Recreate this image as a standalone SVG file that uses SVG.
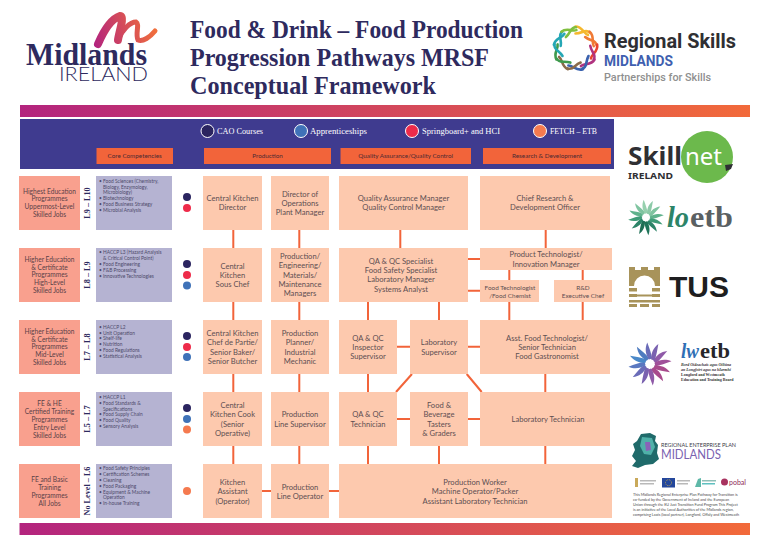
<svg xmlns="http://www.w3.org/2000/svg" xmlns:xlink="http://www.w3.org/1999/xlink" width="768" height="548" viewBox="0 0 768 548">
<style>
text{font-family:"Lato","Noto Sans",sans-serif}
.core{fill:#fdc9ae}
.lvl{fill:#f9a08e}
.cmp{fill:#b5b3d2}
.hd{fill:#f2643a}
.t{font-size:7.6px;fill:#5d4f52;text-anchor:middle}
.s{font-size:6.4px;fill:#5d4f52;text-anchor:middle}
.l{font-size:6.6px;fill:#5a4048;text-anchor:middle}
.b{font-size:4.85px;fill:#4e4a6a}
.hl{font-size:6.3px;fill:#4d2a33;text-anchor:middle}
.sf{font-family:"Liberation Serif",serif}
.ttl{font-family:"Liberation Serif",serif;font-weight:bold;font-size:25px;fill:#2e2a5e}
.lg{font-family:"Liberation Serif",serif;font-size:8.6px;fill:#fff}
.lv{font-family:"Liberation Serif",serif;font-size:8.2px;font-weight:bold;fill:#2e2a5e;text-anchor:middle}
.cn path,.cn line{stroke:#f2643a;stroke-width:2;fill:none}
.ring{fill:none;stroke-width:2.600;stroke-linecap:round}
.mk{fill:#b9b9b9}
.wave{font-size:3.75px;fill:#4a4a4a}
</style>
<defs>
<linearGradient id="bar" x1="0" x2="1" y1="0" y2="0"><stop offset="0" stop-color="#b3247e"/><stop offset="1" stop-color="#f26a3a"/></linearGradient>
<linearGradient id="sw" gradientUnits="userSpaceOnUse" x1="95" y1="45" x2="155" y2="25"><stop offset="0" stop-color="#b3247e"/><stop offset="1" stop-color="#f2703a"/></linearGradient>
<path id="seg" d="M0 -22C7 -22 8 -15 12.500 -13.500"/>
<path id="seg2" d="M0 -15C7 -15 10 -20 14 -16"/>
<path id="blade" d="M4 -4C8 -11 13 -15 21 -16C16 -10 12 -5 7 -1Z"/>
</defs>

<g id="logo-midlands">
<path d="M98 44C104 30 111 19 120 16C125 16 119 32 118 40" fill="none" stroke="url(#sw)" stroke-width="8" stroke-linecap="round"/>
<path d="M118 40C122 30 130 22 136 22C140 24 135 34 138 40C143 42 150 37 155 31" fill="none" stroke="url(#sw)" stroke-width="5" stroke-linecap="round"/>
<text x="26" y="65" class="sf" font-size="31" font-weight="bold" fill="#2e2a5e" textLength="121" lengthAdjust="spacingAndGlyphs">Midlands</text>
<text x="59" y="81" font-size="20" font-weight="300" fill="#2e2a5e" textLength="89" lengthAdjust="spacingAndGlyphs">IRELAND</text>
</g>

<g id="title">
<text x="190" y="37.500" class="ttl" textLength="333" lengthAdjust="spacingAndGlyphs">Food &amp; Drink – Food Production</text>
<text x="190" y="66" class="ttl" textLength="299" lengthAdjust="spacingAndGlyphs">Progression Pathways MRSF</text>
<text x="190" y="94" class="ttl" textLength="246" lengthAdjust="spacingAndGlyphs">Conceptual Framework</text>
</g>

<g id="logo-regional-skills">
<g transform="translate(575.500 48.500)" class="ring">
<use xlink:href="#seg" stroke="#f5b82e"/>
<use xlink:href="#seg2" stroke="#f5b82e"/>
<use xlink:href="#seg" transform="rotate(40)" stroke="#f07a35"/>
<use xlink:href="#seg2" transform="rotate(40)" stroke="#f07a35"/>
<use xlink:href="#seg" transform="rotate(80)" stroke="#e8432f"/>
<use xlink:href="#seg2" transform="rotate(80)" stroke="#b0337f"/>
<use xlink:href="#seg" transform="rotate(120)" stroke="#b0337f"/>
<use xlink:href="#seg2" transform="rotate(120)" stroke="#3a62ae"/>
<use xlink:href="#seg" transform="rotate(160)" stroke="#3a62ae"/>
<use xlink:href="#seg2" transform="rotate(160)" stroke="#8a6a4a"/>
<use xlink:href="#seg" transform="rotate(200)" stroke="#8a6a4a"/>
<use xlink:href="#seg2" transform="rotate(200)" stroke="#3f9a4d"/>
<use xlink:href="#seg" transform="rotate(240)" stroke="#3f9a4d"/>
<use xlink:href="#seg2" transform="rotate(240)" stroke="#25a7b5"/>
<use xlink:href="#seg" transform="rotate(280)" stroke="#25a7b5"/>
<use xlink:href="#seg2" transform="rotate(280)" stroke="#25a7b5"/>
<use xlink:href="#seg" transform="rotate(320)" stroke="#7fbf3f"/>
<use xlink:href="#seg2" transform="rotate(320)" stroke="#7fbf3f"/>
</g>
<text x="604" y="47.500" style="font-family:Roboto,sans-serif" font-size="20" font-weight="700" fill="#2f2f33" textLength="132" lengthAdjust="spacingAndGlyphs">Regional Skills</text>
<text x="604" y="66" style="font-family:Roboto,sans-serif" font-size="14" font-weight="700" fill="#3f5fb0" textLength="69" lengthAdjust="spacingAndGlyphs">MIDLANDS</text>
<text x="604" y="80.500" style="font-family:Roboto,sans-serif" font-size="10.500" font-weight="500" fill="#8f8f8f" textLength="107" lengthAdjust="spacingAndGlyphs">Partnerships for Skills</text>
</g>

<rect id="top-bar" x="20" y="105" width="730" height="12" fill="url(#bar)"/>
<rect id="bottom-bar" x="19.500" y="523" width="730.500" height="12" fill="url(#bar)"/>

<g id="header-panel">
<rect x="20" y="119" width="594" height="50" fill="#3f3b8f"/>
<circle cx="207.500" cy="131" r="6.500" fill="#2b2560" stroke="#fff"/>
<text x="217" y="134" class="lg" textLength="46" lengthAdjust="spacingAndGlyphs">CAO Courses</text>
<circle cx="301" cy="131" r="6.500" fill="#3f72b8" stroke="#fff"/>
<text x="310" y="134" class="lg" textLength="57" lengthAdjust="spacingAndGlyphs">Apprenticeships</text>
<circle cx="412" cy="131" r="6.500" fill="#ee2b4a" stroke="#fff"/>
<text x="422" y="134" class="lg" textLength="78" lengthAdjust="spacingAndGlyphs">Springboard+ and HCI</text>
<circle cx="540" cy="131" r="6.500" fill="#f57a4f" stroke="#fff"/>
<text x="550" y="134" class="lg" textLength="47" lengthAdjust="spacingAndGlyphs">FETCH – ETB</text>
<rect x="96.500" y="148" width="76.500" height="16" class="hd"/>
<text x="134.700" y="158.300" class="hl">Core Competencies</text>
<rect x="204" y="148" width="127" height="16" class="hd"/>
<text x="267.500" y="158.300" class="hl">Production</text>
<rect x="340.500" y="148" width="130.500" height="16" class="hd"/>
<text x="405.700" y="158.300" class="hl">Quality Assurance/Quality Control</text>
<rect x="483" y="148" width="128" height="16" class="hd"/>
<text x="547" y="158.300" class="hl">Research &amp; Development</text>
</g>

<g id="connectors" class="cn">
<path d="M233.300 230V248M233.300 302V320M233.300 374V392M233.300 446V464"/>
<path d="M299.300 230V248M299.300 302V320M299.300 374V392M299.300 446V464"/>
<path d="M400.300 230V248M368 302V320M439 302V320M368 374V392M368 446V464M439 446V464"/>
<path d="M545.700 230V248M509.300 270V280M582.700 270V280M509.300 302V320M582.700 302V320M545.300 374V392M545.300 446V464"/>
<path d="M468 259H480M468 290.700H480M397 346.700H410M468 346.700H480M397 419H410M468 419H480M262 491H271M329 491H339"/>
<path d="M412 374L396 392M466.700 374L481.700 392"/>
</g>

<g id="level-1"><rect x="19" y="464" width="61" height="54" class="lvl"/><text class="l" y="482"><tspan x="49.500">FE and Basic</tspan><tspan x="49.500" dy="8">Training</tspan><tspan x="49.500" dy="8">Programmes</tspan><tspan x="49.500" dy="8">All Jobs</tspan></text><text class="lv" transform="translate(90 491) rotate(-90)">No Level – L6</text></g>
<g id="level-2"><rect x="19" y="392" width="61" height="54" class="lvl"/><text class="l" y="406"><tspan x="49.500">FE &amp; HE</tspan><tspan x="49.500" dy="7.900">Certified Training</tspan><tspan x="49.500" dy="7.900">Programmes</tspan><tspan x="49.500" dy="7.900">Entry Level</tspan><tspan x="49.500" dy="7.900">Skilled Jobs</tspan></text><text class="lv" transform="translate(90 419) rotate(-90)">L5 – L7</text></g>
<g id="level-3"><rect x="19" y="320" width="61" height="54" class="lvl"/><text class="l" y="333.600"><tspan x="49.500">Higher Education</tspan><tspan x="49.500" dy="7.900">&amp; Certificate</tspan><tspan x="49.500" dy="7.900">Programmes</tspan><tspan x="49.500" dy="7.900">Mid-Level</tspan><tspan x="49.500" dy="7.900">Skilled Jobs</tspan></text><text class="lv" transform="translate(90 347) rotate(-90)">L7 – L8</text></g>
<g id="level-4"><rect x="19" y="248" width="61" height="54" class="lvl"/><text class="l" y="261.600"><tspan x="49.500">Higher Education</tspan><tspan x="49.500" dy="7.900">&amp; Certificate</tspan><tspan x="49.500" dy="7.900">Programmes</tspan><tspan x="49.500" dy="7.900">High-Level</tspan><tspan x="49.500" dy="7.900">Skilled Jobs</tspan></text><text class="lv" transform="translate(90 275) rotate(-90)">L8 – L9</text></g>
<g id="level-5"><rect x="19" y="176" width="61" height="54" class="lvl"/><text class="l" y="193.600"><tspan x="49.500">Highest Education</tspan><tspan x="49.500" dy="7.800">Programmes</tspan><tspan x="49.500" dy="7.800">Uppermost-Level</tspan><tspan x="49.500" dy="7.800">Skilled Jobs</tspan></text><text class="lv" transform="translate(90 203) rotate(-90)">L9 – L10</text></g>

<g id="competencies-5"><rect x="96" y="176" width="76" height="54" class="cmp"/>
<text class="b" y="182.700"><tspan x="99">•</tspan><tspan x="103">Food Sciences (Chemistry,</tspan><tspan x="103" dy="5.800">Biology, Enzymology,</tspan><tspan x="103" dy="5.800">Microbiology)</tspan><tspan x="99" dy="5.800">•</tspan><tspan x="103">Biotechnology</tspan><tspan x="99" dy="5.800">•</tspan><tspan x="103">Food Business Strategy</tspan><tspan x="99" dy="5.800">•</tspan><tspan x="103">Microbial Analysis</tspan></text></g>
<g id="competencies-4"><rect x="96" y="248" width="76" height="54" class="cmp"/>
<text class="b" y="254.400"><tspan x="99">•</tspan><tspan x="103">HACCP L3 (Hazard Analysis</tspan><tspan x="103" dy="5.800">&amp; Critical Control Point)</tspan><tspan x="99" dy="5.800">•</tspan><tspan x="103">Food Engineering</tspan><tspan x="99" dy="5.800">•</tspan><tspan x="103">F&amp;B Processing</tspan><tspan x="99" dy="5.800">•</tspan><tspan x="103">Innovative Technologies</tspan></text></g>
<g id="competencies-3"><rect x="96" y="320" width="76" height="54" class="cmp"/>
<text class="b" y="328.700"><tspan x="99">•</tspan><tspan x="103">HACCP L2</tspan><tspan x="99" dy="5.800">•</tspan><tspan x="103">Unit Operation</tspan><tspan x="99" dy="5.800">•</tspan><tspan x="103">Shelf-life</tspan><tspan x="99" dy="5.800">•</tspan><tspan x="103">Nutrition</tspan><tspan x="99" dy="5.800">•</tspan><tspan x="103">Food Regulations</tspan><tspan x="99" dy="5.800">•</tspan><tspan x="103">Statistical Analysis</tspan></text></g>
<g id="competencies-2"><rect x="96" y="392" width="76" height="54" class="cmp"/>
<text class="b" y="399"><tspan x="99">•</tspan><tspan x="103">HACCP L1</tspan><tspan x="99" dy="5.800">•</tspan><tspan x="103">Food Standards &amp;</tspan><tspan x="103" dy="5.800">Specifications</tspan><tspan x="99" dy="5.800">•</tspan><tspan x="103">Food Supply Chain</tspan><tspan x="99" dy="5.800">•</tspan><tspan x="103">Food Quality</tspan><tspan x="99" dy="5.800">•</tspan><tspan x="103">Sensory Analysis</tspan></text></g>
<g id="competencies-1"><rect x="96" y="464" width="76" height="54" class="cmp"/>
<text class="b" y="470.400"><tspan x="99">•</tspan><tspan x="103">Food Safety Principles</tspan><tspan x="99" dy="5.800">•</tspan><tspan x="103">Certification Schemes</tspan><tspan x="99" dy="5.800">•</tspan><tspan x="103">Cleaning</tspan><tspan x="99" dy="5.800">•</tspan><tspan x="103">Food Packaging</tspan><tspan x="99" dy="5.800">•</tspan><tspan x="103">Equipment &amp; Machine</tspan><tspan x="103" dy="5.800">Operation</tspan><tspan x="99" dy="5.800">•</tspan><tspan x="103">In-house Training</tspan></text></g>

<g id="pathway-dots">
<circle cx="187" cy="197" r="4" fill="#2b2560"/><circle cx="187" cy="208" r="4" fill="#ee2b4a"/>
<circle cx="187" cy="264" r="4" fill="#2b2560"/><circle cx="187" cy="275" r="4" fill="#ee2b4a"/><circle cx="187" cy="285.500" r="4" fill="#3f72b8"/>
<circle cx="187" cy="336" r="4" fill="#2b2560"/><circle cx="187" cy="347" r="4" fill="#ee2b4a"/><circle cx="187" cy="357" r="4" fill="#3f72b8"/>
<circle cx="187" cy="408" r="4" fill="#2b2560"/><circle cx="187" cy="419" r="4" fill="#3f72b8"/><circle cx="187" cy="429.500" r="4" fill="#f57a4f"/>
<circle cx="187" cy="491" r="4" fill="#f57a4f"/>
</g>

<g id="n-central-kitchen-director"><rect x="203" y="176" width="59" height="54" class="core"/><text class="t" y="200.900"><tspan x="232.500">Central Kitchen</tspan><tspan x="232.500" dy="9.300">Director</tspan></text></g>
<g id="n-director-operations"><rect x="271" y="176" width="58" height="54" class="core"/><text class="t" y="196.600"><tspan x="300">Director of</tspan><tspan x="300" dy="9.300">Operations</tspan><tspan x="300" dy="9.300">Plant Manager</tspan></text></g>
<g id="n-qa-manager"><rect x="339" y="176" width="129" height="54" class="core"/><text class="t" y="200.900"><tspan x="403.500">Quality Assurance Manager</tspan><tspan x="403.500" dy="9.300">Quality Control Manager</tspan></text></g>
<g id="n-chief-rd"><rect x="480" y="176" width="130" height="54" class="core"/><text class="t" y="200.900"><tspan x="545">Chief Research &amp;</tspan><tspan x="545" dy="9.300">Development Officer</tspan></text></g>

<g id="n-sous-chef"><rect x="203" y="248" width="59" height="54" class="core"/><text class="t" y="268.600"><tspan x="232.500">Central</tspan><tspan x="232.500" dy="9.300">Kitchen</tspan><tspan x="232.500" dy="9.300">Sous Chef</tspan></text></g>
<g id="n-production-managers"><rect x="271" y="248" width="58" height="54" class="core"/><text class="t" y="258.900"><tspan x="300">Production/</tspan><tspan x="300" dy="9.300">Engineering/</tspan><tspan x="300" dy="9.300">Materials/</tspan><tspan x="300" dy="9.300">Maintenance</tspan><tspan x="300" dy="9.300">Managers</tspan></text></g>
<g id="n-qa-specialist"><rect x="339" y="248" width="129" height="54" class="core"/><text class="t" y="263.600"><tspan x="401">QA &amp; QC Specialist</tspan><tspan x="401" dy="9.300">Food Safety Specialist</tspan><tspan x="401" dy="9.300">Laboratory Manager</tspan><tspan x="401" dy="9.300">Systems Analyst</tspan></text></g>
<g id="n-product-technologist"><rect x="480" y="248" width="132" height="22" class="core"/><text class="t" y="257.300"><tspan x="546">Product Technologist/</tspan><tspan x="546" dy="9.300">Innovation Manager</tspan></text></g>
<g id="n-food-technologist"><rect x="480" y="280" width="59" height="22" class="core"/><text class="s" y="289.600"><tspan x="510">Food Technologist</tspan><tspan x="510" dy="8">/Food Chemist</tspan></text></g>
<g id="n-rd-chef"><rect x="554" y="280" width="58" height="22" class="core"/><text class="s" y="289.600"><tspan x="583">R&amp;D</tspan><tspan x="583" dy="8">Executive Chef</tspan></text></g>

<g id="n-chef-de-partie"><rect x="203" y="320" width="59" height="54" class="core"/><text class="t" y="336"><tspan x="232.500">Central Kitchen</tspan><tspan x="232.500" dy="9.300">Chef de Partie/</tspan><tspan x="232.500" dy="9.300">Senior Baker/</tspan><tspan x="232.500" dy="9.300">Senior Butcher</tspan></text></g>
<g id="n-production-planner"><rect x="271" y="320" width="58" height="54" class="core"/><text class="t" y="336"><tspan x="300">Production</tspan><tspan x="300" dy="9.300">Planner/</tspan><tspan x="300" dy="9.300">Industrial</tspan><tspan x="300" dy="9.300">Mechanic</tspan></text></g>
<g id="n-inspector"><rect x="339" y="320" width="58" height="54" class="core"/><text class="t" y="340.600"><tspan x="368">QA &amp; QC</tspan><tspan x="368" dy="9.300">Inspector</tspan><tspan x="368" dy="9.300">Supervisor</tspan></text></g>
<g id="n-lab-supervisor"><rect x="410" y="320" width="58" height="54" class="core"/><text class="t" y="345.300"><tspan x="439">Laboratory</tspan><tspan x="439" dy="9.300">Supervisor</tspan></text></g>
<g id="n-asst-technologist"><rect x="480" y="320" width="130" height="54" class="core"/><text class="t" y="340.600"><tspan x="547">Asst. Food Technologist/</tspan><tspan x="547" dy="9.300">Senior Technician</tspan><tspan x="547" dy="9.300">Food Gastronomist</tspan></text></g>

<g id="n-kitchen-cook"><rect x="203" y="392" width="59" height="54" class="core"/><text class="t" y="408"><tspan x="232.500">Central</tspan><tspan x="232.500" dy="9.300">Kitchen Cook</tspan><tspan x="232.500" dy="9.300">(Senior</tspan><tspan x="232.500" dy="9.300">Operative)</tspan></text></g>
<g id="n-line-supervisor"><rect x="271" y="392" width="58" height="54" class="core"/><text class="t" y="417.300"><tspan x="300">Production</tspan><tspan x="300" dy="9.300">Line Supervisor</tspan></text></g>
<g id="n-qa-technician"><rect x="339" y="392" width="58" height="54" class="core"/><text class="t" y="417.300"><tspan x="368">QA &amp; QC</tspan><tspan x="368" dy="9.300">Technician</tspan></text></g>
<g id="n-tasters"><rect x="410" y="392" width="58" height="54" class="core"/><text class="t" y="408"><tspan x="439">Food &amp;</tspan><tspan x="439" dy="9.300">Beverage</tspan><tspan x="439" dy="9.300">Tasters</tspan><tspan x="439" dy="9.300">&amp; Graders</tspan></text></g>
<g id="n-lab-technician"><rect x="480" y="392" width="130" height="54" class="core"/><text class="t" x="548" y="422">Laboratory Technician</text></g>

<g id="n-kitchen-assistant"><rect x="203" y="464" width="59" height="54" class="core"/><text class="t" y="485"><tspan x="232.500">Kitchen</tspan><tspan x="232.500" dy="9.300">Assistant</tspan><tspan x="232.500" dy="9.300">(Operator)</tspan></text></g>
<g id="n-line-operator"><rect x="271" y="464" width="58" height="54" class="core"/><text class="t" y="489.600"><tspan x="300">Production</tspan><tspan x="300" dy="9.300">Line Operator</tspan></text></g>
<g id="n-production-worker"><rect x="339" y="464" width="273" height="54" class="core"/><text class="t" y="485"><tspan x="475">Production Worker</tspan><tspan x="475" dy="9.300">Machine Operator/Packer</tspan><tspan x="475" dy="9.300">Assistant Laboratory Technician</tspan></text></g>

<g id="logo-skillnet">
<circle cx="707" cy="157" r="26" fill="#6cb94c"/>
<text x="628" y="165" style="font-family:'Noto Sans',sans-serif" font-size="25" font-weight="700" fill="#2f2f33" textLength="54" lengthAdjust="spacingAndGlyphs">Skill</text>
<text x="685" y="165" style="font-family:'Noto Sans',sans-serif" font-size="24" fill="#fff" textLength="37" lengthAdjust="spacingAndGlyphs">net</text>
<path d="M725 165L733 164L731 169L726 171Z" fill="#2f2f33"/>
<text x="628" y="178.500" style="font-family:'Noto Sans',sans-serif" font-size="8.500" font-weight="700" fill="#2f2f33" textLength="45" lengthAdjust="spacingAndGlyphs">IRELAND</text>
</g>

<g id="logo-loetb">
<g transform="translate(646 217.500) scale(.68)">
<use xlink:href="#blade" fill="#7fc4a0"/><use xlink:href="#blade" transform="rotate(30)" fill="#5fb28c"/><use xlink:href="#blade" transform="rotate(60)" fill="#3f9c78"/><use xlink:href="#blade" transform="rotate(90)" fill="#2c8468"/><use xlink:href="#blade" transform="rotate(120)" fill="#1f7459"/><use xlink:href="#blade" transform="rotate(150)" fill="#1f6f55"/><use xlink:href="#blade" transform="rotate(180)" fill="#2c8468"/><use xlink:href="#blade" transform="rotate(210)" fill="#3f9c78"/><use xlink:href="#blade" transform="rotate(240)" fill="#5fb28c"/><use xlink:href="#blade" transform="rotate(270)" fill="#7fc4a0"/><use xlink:href="#blade" transform="rotate(300)" fill="#96d0ae"/><use xlink:href="#blade" transform="rotate(330)" fill="#8ccaa8"/>
</g>
<text x="667" y="227" class="sf" font-size="29" font-style="italic" font-weight="bold" fill="#2c8468" textLength="22" lengthAdjust="spacingAndGlyphs">lo</text>
<text x="690" y="227" class="sf" font-size="29" font-weight="bold" fill="#5a6062" textLength="43" lengthAdjust="spacingAndGlyphs">etb</text>
</g>

<g id="logo-tus">
<path d="M629 267h6v3h6v-3h7v3h6v-3h6v19h-5a10.500 10.500 0 0 0 -21 0h-5z" fill="#a8935a"/>
<path d="M629 288h8v3.500h-8zM652 288h8v3.500h-8zM629 294h8v3h-8zM652 294h8v3h-8zM637 294.500h15v2h-15zM629 300h31v2.500h-31zM629 304h8v3h-8zM652 304h8v3h-8zM640 304h9v3h-9z" fill="#a8935a"/>
<text x="669" y="297" style="font-family:'Liberation Sans',sans-serif" font-size="30" font-weight="700" fill="#1e1e20" textLength="60" lengthAdjust="spacingAndGlyphs">TUS</text>
</g>

<g id="logo-lwetb">
<g transform="translate(650 364) scale(.82)">
<use xlink:href="#blade" fill="#8f5aa8"/><use xlink:href="#blade" transform="rotate(30)" fill="#a0509a"/><use xlink:href="#blade" transform="rotate(60)" fill="#a84a8c"/><use xlink:href="#blade" transform="rotate(90)" fill="#a84a8c"/><use xlink:href="#blade" transform="rotate(120)" fill="#8f5aa8"/><use xlink:href="#blade" transform="rotate(150)" fill="#7a62b0"/><use xlink:href="#blade" transform="rotate(180)" fill="#6a6cb8"/><use xlink:href="#blade" transform="rotate(210)" fill="#5a78c0"/><use xlink:href="#blade" transform="rotate(240)" fill="#4a88c8"/><use xlink:href="#blade" transform="rotate(270)" fill="#4f7cc0"/><use xlink:href="#blade" transform="rotate(300)" fill="#6a6cb8"/><use xlink:href="#blade" transform="rotate(330)" fill="#7a62b0"/>
</g>
<text x="681" y="358" class="sf" font-size="21" font-style="italic" font-weight="bold" fill="#2f6fb5" textLength="18" lengthAdjust="spacingAndGlyphs">lw</text>
<text x="700" y="358" class="sf" font-size="21" font-weight="bold" fill="#26262a" textLength="30" lengthAdjust="spacingAndGlyphs">etb</text>
<text class="sf" font-size="4" font-weight="bold" fill="#333" y="366"><tspan x="681" font-style="italic">Bord Oideachais agus Oiliúna</tspan><tspan x="681" dy="5" font-style="italic">an Longfoirt agus na hIarmhí</tspan><tspan x="681" dy="5">Longford and Westmeath</tspan><tspan x="681" dy="5">Education and Training Board</tspan></text>
</g>

<g id="logo-regional-enterprise">
<path d="M641 434L650 433L656 436L655 441L658 445L657 453L659 459L653 464L645 465L638 468L632 466L636 461L632 456L635 450L633 444L637 441Z" fill="#1f6a6a"/>
<path d="M642 437L652 438L655 447L651 455L644 454L640 446Z" fill="#4fb0a8"/>
<path d="M645 442L650 442L651 450L646 451Z" fill="#8a62b8"/>
<text x="661" y="446.500" font-size="4.800" fill="#3d3d4a" textLength="75" lengthAdjust="spacingAndGlyphs">REGIONAL ENTERPRISE PLAN</text>
<text x="661" y="458.500" font-size="12.500" fill="#7a62b0" textLength="60" lengthAdjust="spacingAndGlyphs">MIDLANDS</text>
</g>

<g id="funder-logos">
<rect x="635" y="478" width="3" height="9" fill="#c9a95a"/>
<rect class="mk" x="640" y="480" width="16" height="1.500"/><rect class="mk" x="640" y="483" width="14" height="1.500"/>
<rect x="662" y="478" width="13" height="9.500" fill="#24479c"/>
<circle cx="668.500" cy="482.700" r="3" fill="none" stroke="#f2c832" stroke-width=".8" stroke-dasharray=".8 1"/>
<rect class="mk" x="677" y="480" width="13" height="1.500"/><rect class="mk" x="677" y="483" width="11" height="1.500"/>
<path d="M695 487L698 479L701 478L701 487Z" fill="#5fb8a8"/>
<rect x="702" y="480" width="14" height="1.500" fill="#8fbfb8"/><rect x="702" y="483" width="13" height="1.500" fill="#5fc0c0"/>
<circle cx="724.500" cy="482" r="3.500" fill="#a8325f"/>
<text x="729" y="485" font-size="7" fill="#8d2a55">pobal</text>
</g>

<g id="funding-note">
<text class="wave" y="495.500"><tspan x="633">This Midlands Regional Enterprise Plan Pathway for Transition is</tspan><tspan x="633" dy="5">co-funded by the Government of Ireland and the European</tspan><tspan x="633" dy="5">Union through the EU Just Transition Fund Program This Project</tspan><tspan x="633" dy="5">is an initiative of the Local Authorities of the Midlands region,</tspan><tspan x="633" dy="5">comprising Laois (local partner), Longford, Offaly and Westmeath</tspan></text>
</g>
</svg>
